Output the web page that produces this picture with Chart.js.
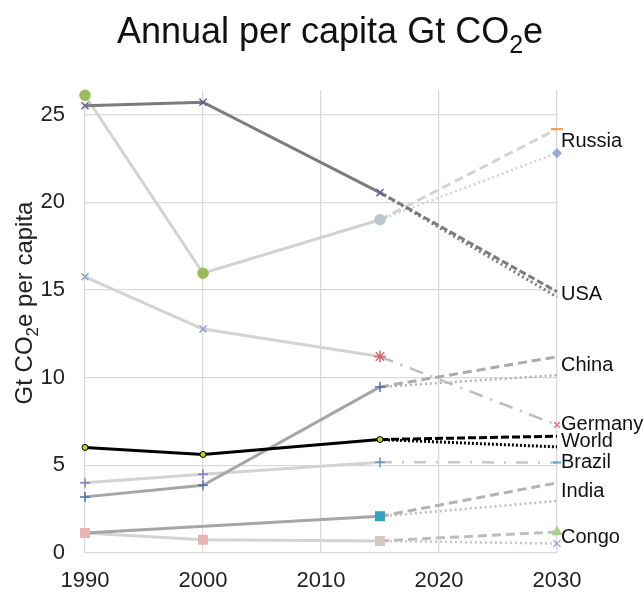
<!DOCTYPE html>
<html>
<head>
<meta charset="utf-8">
<script src="https://cdn.jsdelivr.net/npm/chart.js@4"></script>
<style>
  html, body { margin: 0; padding: 0; background: #fff; }
  #wrap { width: 643px; height: 595px; }
</style>
</head>
<body>
<div id="wrap"><canvas id="chart" width="643" height="595"></canvas></div>
<script>
// Historical years and scenario years
const histYears = [1990, 2000, 2015];
const projYears = [2015, 2030];
const xTicks = [1990, 2000, 2010, 2020, 2030];
const yTicks = [0, 5, 10, 15, 20, 25];

// Per capita emissions (t CO2e) by region, historical
const usa     = [25.5, 25.7, 20.55];
const russia  = [26.1, 15.95, 19.0];
const germany = [15.75, 12.77, 11.2];
const china   = [3.2, 3.86, 9.47];
const world   = [6.02, 5.62, 6.47];
const brazil  = [4.0, 4.49, 5.18];
const india   = [1.14, null, 2.09];
const congo   = [1.14, 0.76, 0.69];

// 2030 projections: [upper scenario, lower scenario]
const usa2030     = [14.9, 14.6];
const russia2030  = [24.17, 22.8];
const germany2030 = [7.3];
const china2030   = [11.19, 10.14];
const world2030   = [6.66, 6.05];
const brazil2030  = [5.16];
const india2030   = [4.0, 2.97];
const congo2030   = [1.2, 0.54];

const regionNames = ['Russia', 'USA', 'China', 'Germany', 'World', 'Brazil', 'India', 'Congo'];
const regionProj  = [russia2030, usa2030, china2030, germany2030, world2030, brazil2030, india2030, congo2030];

const FONT = '"Liberation Sans", Arial, Helvetica, sans-serif';

function histSet(values, style) {
  const data = [];
  histYears.forEach((yr, i) => { if (values[i] != null) data.push({ x: yr, y: values[i] }); });
  const keep = histYears.map((yr, i) => values[i] != null);
  const pick = a => Array.isArray(a) ? a.filter((_, i) => keep[i]) : a;
  return {
    data,
    borderColor: style.color,
    borderWidth: 3,
    pointStyle: pick(style.marker),
    pointRadius: pick(style.radius),
    pointBackgroundColor: pick(style.markerColor),
    pointBorderColor: pick(style.markerBorder || style.markerColor),
    pointBorderWidth: style.markerWidth || 1.5,
    tension: 0,
    clip: false,
    order: style.order || 5
  };
}

function projSet(hist, end, style) {
  return {
    data: [{ x: projYears[0], y: hist[hist.length - 1] }, { x: projYears[1], y: end }],
    borderColor: style.color,
    borderWidth: style.width || 3,
    borderDash: style.dash,
    borderCapStyle: 'butt',
    pointStyle: style.marker || 'circle',
    pointRadius: [0, style.radius || 0],
    pointBackgroundColor: style.markerColor || style.color,
    pointBorderColor: style.markerColor || style.color,
    pointBorderWidth: style.markerWidth || 1.5,
    tension: 0,
    clip: false,
    order: style.order || 6
  };
}

const DARK = '#7c7c7c', MID = '#a6a6a6', LIGHT = '#d3d3d3';
const DASH = [9, 5], DOT = [2, 3], DASHDOT = [14, 8, 2, 8];

const datasets = [
  // historical lines
  histSet(world, { color: '#000000', marker: 'circle', radius: 3, markerColor: '#c2d12a', markerBorder: '#000000', markerWidth: 1, order: 1 }),
  histSet(usa, { color: DARK, marker: 'crossRot', radius: 5, markerColor: '#675f93', order: 2 }),
  histSet(china, { color: MID, marker: 'cross', radius: 5, markerColor: '#4a6fb0', order: 3 }),
  histSet(india, { color: MID, marker: 'rect', radius: 6, markerColor: ['#e6b5b5', null, '#35a2bd'], order: 3 }),
  histSet(russia, { color: LIGHT, marker: 'circle', radius: 5, markerColor: ['#9bbb59', '#9bbb59', '#b8c7cb'], order: 4 }),
  histSet(germany, { color: LIGHT, marker: ['crossRot', 'crossRot', 'star'], radius: [5, 5, 6], markerColor: ['#8ea1cf', '#8ea1cf', '#d36b6b'], order: 4 }),
  histSet(brazil, { color: LIGHT, marker: 'cross', radius: 5, markerColor: ['#8a7cbf', '#8a7cbf', '#6b93c8'], order: 4 }),
  histSet(congo, { color: LIGHT, marker: 'rect', radius: 6, markerColor: ['#e6b5b5', '#e6b5b5', '#d6c6c6'], order: 4 }),

  // projections to 2030
  projSet(usa, usa2030[0], { color: DARK, dash: [7, 3], order: 2 }),
  projSet(usa, usa2030[1], { color: DARK, dash: DOT, order: 2 }),
  projSet(russia, russia2030[0], { color: LIGHT, dash: DASH, marker: 'line', radius: 6, markerColor: '#f79646', markerWidth: 2 }),
  projSet(russia, russia2030[1], { color: LIGHT, dash: DOT, width: 2.5, marker: 'rectRot', radius: 4, markerColor: '#98a9d3' }),
  projSet(germany, germany2030[0], { color: '#bdbdbd', dash: DASHDOT, width: 2.5, marker: 'crossRot', radius: 4, markerColor: '#e07a7a' }),
  projSet(china, china2030[0], { color: '#ababab', dash: DASH }),
  projSet(china, china2030[1], { color: '#b3b3b3', dash: DOT, width: 2.5 }),
  projSet(world, world2030[0], { color: '#000000', dash: [8, 3], order: 1 }),
  projSet(world, world2030[1], { color: '#000000', dash: [2, 2], order: 1 }),
  projSet(brazil, brazil2030[0], { color: '#c8c8c8', dash: [12, 10, 2, 10], width: 2.5, marker: 'line', radius: 4, markerColor: '#4bacc6', markerWidth: 2 }),
  projSet(india, india2030[0], { color: '#b3b3b3', dash: DASH }),
  projSet(india, india2030[1], { color: '#bdbdbd', dash: DOT, width: 2.5 }),
  projSet(congo, congo2030[0], { color: '#bdbdbd', dash: DASH, marker: 'triangle', radius: 5, markerColor: '#a9d08e' }),
  projSet(congo, congo2030[1], { color: '#c6c6c6', dash: DOT, width: 2.5, marker: 'crossRot', radius: 5, markerColor: '#a8a8d8' })
];

// Draws a run of text pieces, some of them as subscripts
function measureParts(ctx, parts, size, subSize) {
  let w = 0;
  parts.forEach(p => {
    ctx.font = (p.sub ? subSize : size) + 'px ' + FONT;
    w += ctx.measureText(p.t).width;
  });
  return w;
}
function drawParts(ctx, parts, x, y, size, subSize, subShift) {
  let cx = x;
  parts.forEach(p => {
    ctx.font = (p.sub ? subSize : size) + 'px ' + FONT;
    ctx.fillText(p.t, cx, y + (p.sub ? subShift : 0));
    cx += ctx.measureText(p.t).width;
  });
}

const textPlugin = {
  id: 'chartText',
  afterDatasetsDraw(chart) {
    const ctx = chart.ctx;
    const xs = chart.scales.x, ys = chart.scales.y;
    ctx.save();
    ctx.fillStyle = '#111';
    ctx.textAlign = 'left';
    ctx.textBaseline = 'alphabetic';

    // chart title
    const title = [{ t: 'Annual per capita Gt CO' }, { t: '2', sub: true }, { t: 'e' }];
    const tw = measureParts(ctx, title, 36, 25);
    drawParts(ctx, title, 330 - tw / 2, 43, 36, 25, 10);

    // y-axis title, rotated
    const ytitle = [{ t: 'Gt CO' }, { t: '2', sub: true }, { t: 'e per capita' }];
    ctx.save();
    ctx.translate(32, 303);
    ctx.rotate(-Math.PI / 2);
    const yw = measureParts(ctx, ytitle, 24, 17);
    ctx.fillStyle = '#222';
    drawParts(ctx, ytitle, -yw / 2, 0, 24, 17, 6);
    ctx.restore();

    // region names beside the 2030 values
    ctx.font = '20px ' + FONT;
    ctx.textBaseline = 'middle';
    ctx.fillStyle = '#111';
    const x2030 = xs.getPixelForValue(2030);
    regionNames.forEach((name, i) => {
      const vals = regionProj[i];
      const avg = vals.reduce((a, b) => a + b, 0) / vals.length;
      ctx.fillText(name, x2030 + 4, ys.getPixelForValue(avg));
    });
    ctx.restore();
  }
};

new Chart(document.getElementById('chart'), {
  type: 'line',
  data: { datasets },
  plugins: [textPlugin],
  options: {
    responsive: false,
    animation: false,
    devicePixelRatio: 1,
    layout: { padding: { top: 90, right: 86, left: 0, bottom: 0 } },
    plugins: { legend: { display: false }, tooltip: { enabled: false }, title: { display: false } },
    scales: {
      x: {
        type: 'linear',
        min: 1990,
        max: 2030,
        afterBuildTicks: s => { s.ticks = xTicks.map(v => ({ value: v })); },
        afterFit: s => { s.height = 42; },
        ticks: {
          callback: v => String(v),
          color: '#222',
          font: { family: FONT, size: 22 },
          padding: 15,
          maxRotation: 0,
          autoSkip: false
        },
        grid: { color: '#dadada', lineWidth: 1.3, drawTicks: false },
        border: { display: false }
      },
      y: {
        type: 'linear',
        min: 0,
        max: 26.4,
        afterBuildTicks: s => { s.ticks = yTicks.map(v => ({ value: v })); },
        afterFit: s => { s.width = 85; },
        ticks: {
          color: '#222',
          font: { family: FONT, size: 22 },
          padding: 20
        },
        grid: { color: '#dadada', lineWidth: 1.3, drawTicks: false },
        border: { display: false }
      }
    }
  }
});
</script>
</body>
</html>
